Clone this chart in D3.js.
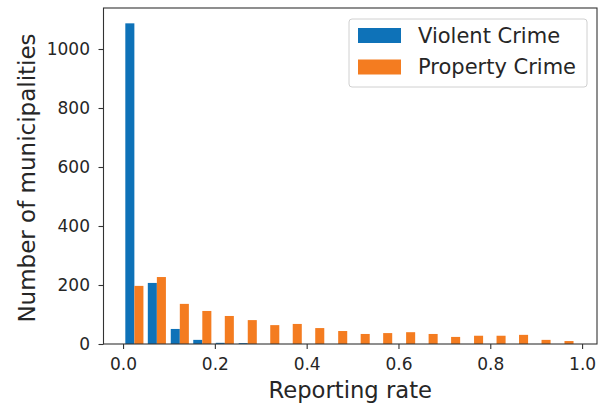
<!DOCTYPE html>
<html>
<head>
<meta charset="utf-8">
<script src="https://cdn.jsdelivr.net/npm/d3@7"></script>
<style>
  body { margin: 0; background: #fff; }
  text { font-family: "DejaVu Sans", sans-serif; fill: #262626; }
</style>
</head>
<body>
<div id="chart"></div>
<script>
// histogram bins (left edges) and counts per bin
const binEdges = [0, 0.049, 0.099, 0.148, 0.197, 0.247, 0.296, 0.345, 0.394, 0.444,
                  0.493, 0.542, 0.592, 0.641, 0.690, 0.740, 0.789, 0.838, 0.887, 0.937];
const binWidth = 0.0493;
const violent  = [1087, 207, 51, 14, 4, 3, 0, 0, 0, 0, 0, 0, 0, 0, 0, 0, 0, 0, 0, 0];
const property = [197, 227, 136, 112, 95, 81, 64, 68, 54, 44, 34, 37, 40, 34, 24, 28, 28, 31, 14, 10];
const seriesNames = ["Violent Crime", "Property Crime"];
const colors = ["#0e72b8", "#f47c20"];
const yTicks = [0, 200, 400, 600, 800, 1000];
const xTicks = [0, 0.2, 0.4, 0.6, 0.8, 1.0];

const W = 603, H = 405;
const margin = {top: 8, right: 6, bottom: 61, left: 103.5};
const width = W - margin.left - margin.right,
      height = H - margin.top - margin.bottom;

const svg = d3.select("#chart")
  .append("svg")
    .attr("width", W)
    .attr("height", H)
  .append("g")
    .attr("transform", `translate(${margin.left},${margin.top})`);

const x = d3.scaleLinear().domain([-0.0426, 1.0325]).range([0, width]);
const y = d3.scaleLinear().domain([0, 1139]).range([height, 0]);

// bars: each series gets 40% of the bin, offset by 10%
const series = [violent, property];
series.forEach(function(vals, s) {
  svg.append("g")
    .attr("fill", colors[s])
    .selectAll("rect")
    .data(vals)
    .join("rect")
      .attr("x", (d, i) => x(binEdges[i] + binWidth * (0.1 + 0.4 * s)))
      .attr("width", x(binWidth * 0.4) - x(0))
      .attr("y", d => y(d))
      .attr("height", d => height - y(d));
});

// axes
const xAxis = svg.append("g")
  .attr("transform", `translate(0,${height})`)
  .call(d3.axisBottom(x).tickValues(xTicks).tickFormat(d3.format(".1f")).tickSize(5).tickPadding(9));
const yAxis = svg.append("g")
  .call(d3.axisLeft(y).tickValues(yTicks).tickFormat(d3.format("d")).tickSize(5).tickPadding(8.5));

[xAxis, yAxis].forEach(function(a) {
  a.select(".domain").remove();
  a.selectAll("line").attr("stroke", "#333").attr("stroke-width", 1.1);
  a.selectAll("text").style("font-size", "17px").attr("fill", "#262626");
});

// spines
svg.append("rect")
  .attr("x", 0).attr("y", 0)
  .attr("width", width).attr("height", height)
  .attr("fill", "none")
  .attr("stroke", "#333")
  .attr("stroke-width", 1.1);

// axis labels
svg.append("text")
  .attr("x", width / 2)
  .attr("y", height + 54)
  .attr("text-anchor", "middle")
  .style("font-size", "22.7px")
  .text("Reporting rate");

svg.append("text")
  .attr("transform", `translate(-68.5,${height / 2 + 2}) rotate(-90)`)
  .attr("text-anchor", "middle")
  .style("font-size", "23px")
  .text("Number of municipalities");

// legend
const lg = svg.append("g").attr("transform", `translate(${349 - margin.left},${19 - margin.top})`);
lg.append("rect")
  .attr("width", 238).attr("height", 68)
  .attr("rx", 3)
  .attr("fill", "#fff")
  .attr("fill-opacity", 0.8)
  .attr("stroke", "#d0d0d0");
seriesNames.forEach(function(name, i) {
  lg.append("rect")
    .attr("x", 9).attr("y", 9 + i * 31.5)
    .attr("width", 43).attr("height", 15)
    .attr("fill", colors[i]);
  lg.append("text")
    .attr("x", 69).attr("y", 24.3 + i * 31)
    .style("font-size", "21px")
    .text(name);
});
</script>
</body>
</html>
